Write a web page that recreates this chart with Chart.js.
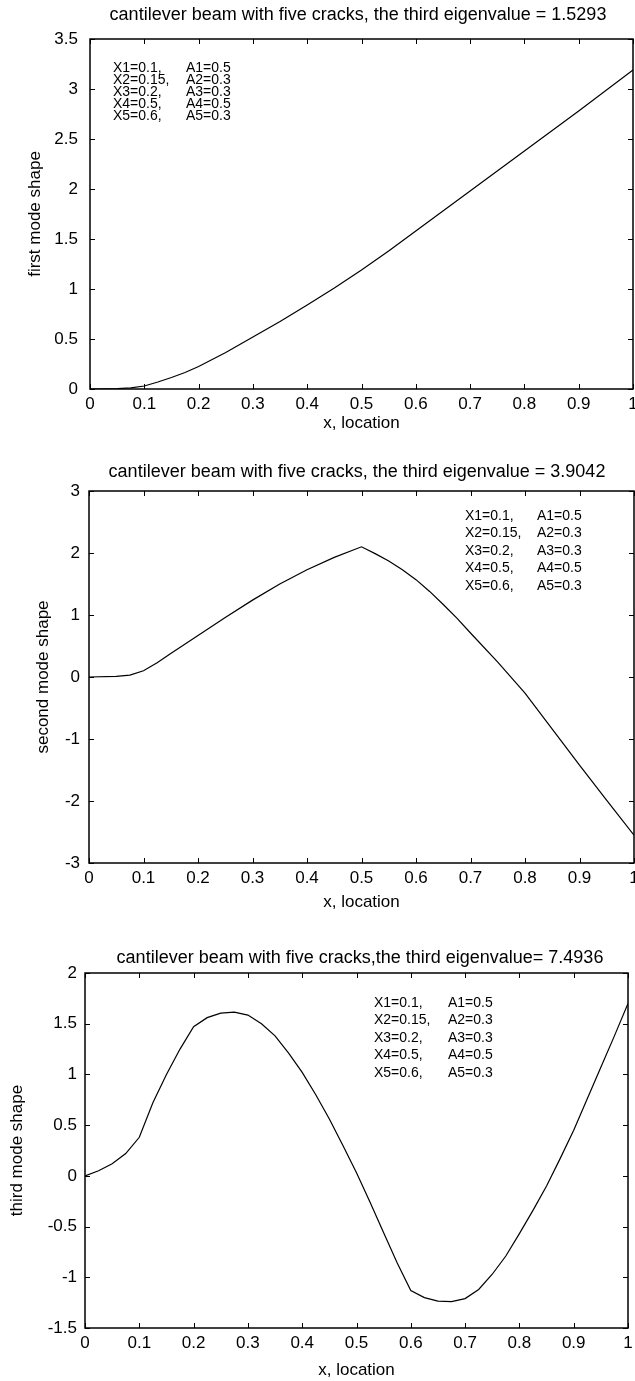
<!DOCTYPE html>
<html>
<head>
<meta charset="utf-8">
<script src="https://cdn.jsdelivr.net/npm/chart.js@4.4.0/dist/chart.umd.min.js"></script>
<style>
  html, body { margin: 0; padding: 0; background: #fff; }
  body { width: 635px; height: 1381px; position: relative; overflow: hidden; }
  canvas { position: absolute; left: 0; }
</style>
</head>
<body>
<canvas id="c1" width="635" height="440" style="top:0px"></canvas>
<canvas id="c2" width="635" height="480" style="top:440px"></canvas>
<canvas id="c3" width="635" height="461" style="top:920px"></canvas>
<script>
// first mode
const xLocation1 = [0, 0.025, 0.05, 0.075, 0.1, 0.125, 0.15, 0.175, 0.2, 0.25, 0.3, 0.35,
                    0.4, 0.45, 0.5, 0.55, 0.6, 0.7, 0.8, 0.9, 1];
const firstMode = [0, 0.001, 0.004, 0.012, 0.03, 0.07, 0.115, 0.165, 0.225, 0.365, 0.52, 0.675,
                   0.84, 1.01, 1.19, 1.38, 1.58, 1.98, 2.38, 2.78, 3.19];

// second mode
const xLocation2 = [0, 0.05, 0.075, 0.1, 0.125, 0.15, 0.2, 0.25, 0.3, 0.35, 0.4, 0.45, 0.5,
                    0.525, 0.55, 0.575, 0.6, 0.625, 0.65, 0.675, 0.7, 0.75, 0.8, 0.85, 0.9, 0.95, 1];
const secondMode = [0, 0.01, 0.03, 0.1, 0.23, 0.38, 0.67, 0.96, 1.24, 1.5, 1.73, 1.93, 2.1,
                    1.99, 1.87, 1.73, 1.57, 1.38, 1.17, 0.95, 0.71, 0.24, -0.26, -0.84, -1.42, -1.99, -2.55];

// third mode
const xLocation3 = [0, 0.025, 0.05, 0.075, 0.1, 0.125, 0.15, 0.175, 0.2, 0.225, 0.25, 0.275,
                    0.3, 0.325, 0.35, 0.375, 0.4, 0.425, 0.45, 0.475, 0.5, 0.525, 0.55, 0.575,
                    0.6, 0.625, 0.65, 0.675, 0.7, 0.725, 0.75, 0.775, 0.8, 0.825, 0.85, 0.875,
                    0.9, 0.925, 0.95, 0.975, 1];
const thirdMode = [0, 0.05, 0.12, 0.22, 0.38, 0.72, 1.0, 1.25, 1.47, 1.56, 1.605, 1.615,
                   1.585, 1.5, 1.38, 1.21, 1.02, 0.8, 0.56, 0.3, 0.03, -0.26, -0.56, -0.86,
                   -1.13, -1.2, -1.235, -1.24, -1.21, -1.12, -0.97, -0.79, -0.57, -0.34, -0.1, 0.17,
                   0.45, 0.76, 1.07, 1.38, 1.7];

const xTicks = [0, 0.1, 0.2, 0.3, 0.4, 0.5, 0.6, 0.7, 0.8, 0.9, 1];
const yTicks1 = [0, 0.5, 1, 1.5, 2, 2.5, 3, 3.5];
const yTicks2 = [-3, -2, -1, 0, 1, 2, 3];
const yTicks3 = [-1.5, -1, -0.5, 0, 0.5, 1, 1.5, 2];

const crackX = ["X1=0.1,", "X2=0.15,", "X3=0.2,", "X4=0.5,", "X5=0.6,"];
const crackA = ["A1=0.5", "A2=0.3", "A3=0.3", "A4=0.5", "A5=0.3"];

Chart.defaults.font.family = "'Liberation Sans', Arial, sans-serif";
Chart.defaults.color = "#000";

// frame, inward ticks on all four sides, title and crack notes
const framePlugin = {
  id: "frame",
  afterDraw(chart, args, o) {
    const { ctx, chartArea: a, scales: { x, y } } = chart;
    ctx.save();
    ctx.strokeStyle = "#000";
    ctx.lineWidth = 1;
    ctx.beginPath();
    x.ticks.forEach(t => {
      const px = Math.round(x.getPixelForValue(t.value)) + 0.5;
      ctx.moveTo(px, a.bottom); ctx.lineTo(px, a.bottom - 5);
      ctx.moveTo(px, a.top); ctx.lineTo(px, a.top + 5);
    });
    y.ticks.forEach(t => {
      const py = Math.round(y.getPixelForValue(t.value)) + 0.5;
      ctx.moveTo(a.left, py); ctx.lineTo(a.left + 5, py);
      ctx.moveTo(a.right, py); ctx.lineTo(a.right - 5, py);
    });
    ctx.stroke();
    ctx.lineWidth = 1.5;
    ctx.strokeRect(a.left, a.top, a.right - a.left, a.bottom - a.top);

    ctx.fillStyle = "#000";
    ctx.textBaseline = "middle";
    ctx.textAlign = "center";
    ctx.font = "18px 'Liberation Sans', Arial, sans-serif";
    ctx.fillText(o.title, o.titleX, o.titleY);

    ctx.textAlign = "left";
    ctx.font = "14px 'Liberation Sans', Arial, sans-serif";
    crackX.forEach((s, i) => {
      const ty = o.noteY + i * o.noteStep;
      ctx.fillText(s, o.noteX, ty);
      ctx.fillText(crackA[i], o.noteA, ty);
    });
    ctx.restore();
  }
};

function makeChart(id, p) {
  const canvasH = document.getElementById(id).height;
  const axisFont = { size: 17 };
  new Chart(document.getElementById(id), {
    type: "line",
    data: {
      datasets: [{
        data: p.xs.map((v, i) => ({ x: v, y: p.ys[i] })),
        borderColor: "#000",
        borderWidth: 1.2,
        pointRadius: 0,
        tension: 0,
        fill: false
      }]
    },
    options: {
      responsive: false,
      animation: false,
      events: [],
      layout: { padding: { left: 0, top: p.top, right: 635 - p.right, bottom: 0 } },
      plugins: {
        legend: { display: false },
        tooltip: { enabled: false },
        frame: p.frame
      },
      scales: {
        x: {
          type: "linear",
          min: 0, max: 1,
          grid: { display: false, drawTicks: false },
          border: { display: false },
          ticks: { font: axisFont, padding: 5, maxRotation: 0, autoSkip: false, callback: v => String(v) },
          afterBuildTicks: s => { s.ticks = xTicks.map(v => ({ value: v })); },
          afterFit: s => { s.height = canvasH - p.bottom; s.paddingLeft = 0; s.paddingRight = 0; },
          title: { display: true, text: "x, location", font: axisFont, padding: { top: 0, bottom: p.xTitlePad } }
        },
        y: {
          type: "linear",
          min: p.yTicks[0], max: p.yTicks[p.yTicks.length - 1],
          grid: { display: false, drawTicks: false },
          border: { display: false },
          ticks: { font: axisFont, padding: p.yTickPad, callback: v => String(v) },
          afterBuildTicks: s => { s.ticks = p.yTicks.map(v => ({ value: v })); },
          afterFit: s => { s.width = p.left; },
          title: { display: true, text: p.yTitle, font: axisFont, padding: { top: p.yTitlePad, bottom: 0 } }
        }
      }
    },
    plugins: [framePlugin]
  });
}

makeChart("c1", {
  xs: xLocation1, ys: firstMode, yTicks: yTicks1, yTitle: "first mode shape",
  left: 90, top: 39, right: 633, bottom: 389, yTickPad: 12, xTitlePad: 6, yTitlePad: 25,
  frame: { title: "cantilever beam with five cracks, the third eigenvalue = 1.5293",
           titleX: 358, titleY: 15, noteX: 113, noteA: 186, noteY: 68, noteStep: 12 }
});
makeChart("c2", {
  xs: xLocation2, ys: secondMode, yTicks: yTicks2, yTitle: "second mode shape",
  left: 89, top: 51, right: 634, bottom: 423, yTickPad: 9, xTitlePad: 7, yTitlePad: 33,
  frame: { title: "cantilever beam with five cracks, the third eigenvalue = 3.9042",
           titleX: 357, titleY: 32, noteX: 465, noteA: 537, noteY: 76, noteStep: 17.5 }
});
makeChart("c3", {
  xs: xLocation3, ys: thirdMode, yTicks: yTicks3, yTitle: "third mode shape",
  left: 85, top: 53, right: 628, bottom: 408, yTickPad: 8, xTitlePad: 0, yTitlePad: 7,
  frame: { title: "cantilever beam with five cracks,the third eigenvalue= 7.4936",
           titleX: 360, titleY: 38, noteX: 374, noteA: 448, noteY: 83, noteStep: 17.5 }
});
</script>
</body>
</html>
